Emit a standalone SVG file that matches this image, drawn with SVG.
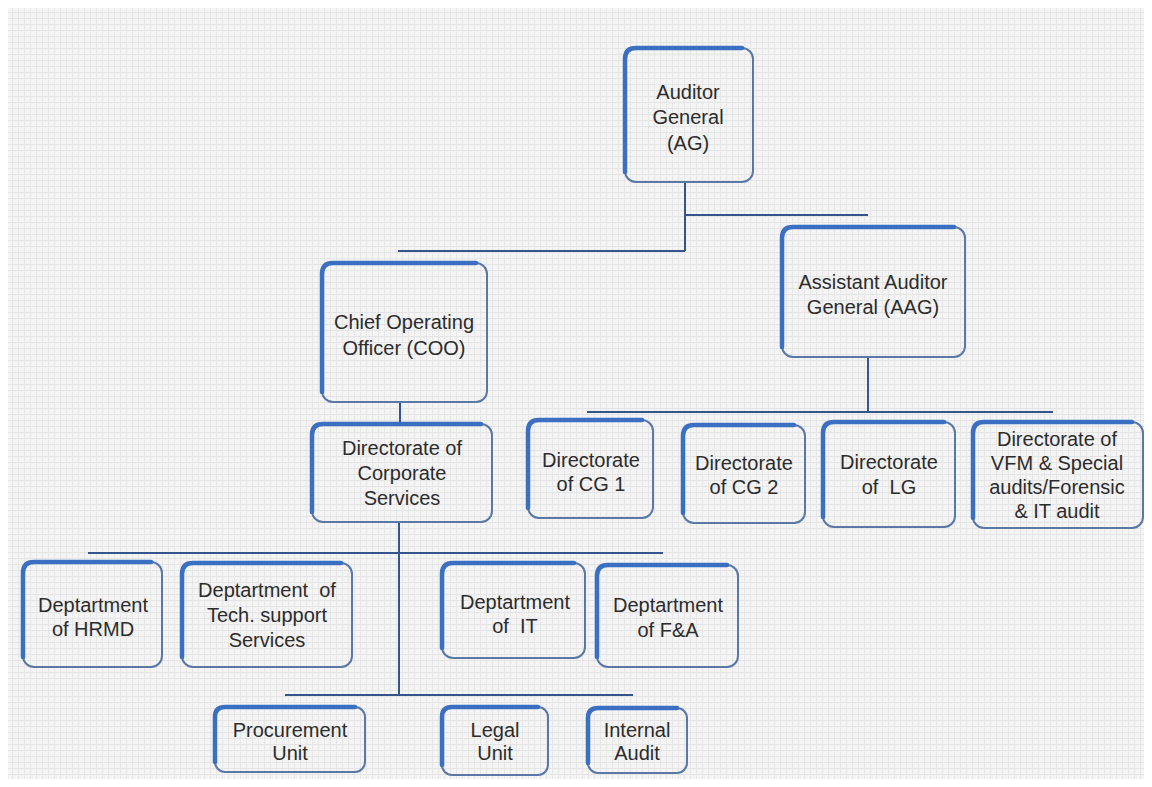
<svg xmlns="http://www.w3.org/2000/svg" width="1152" height="787" viewBox="0 0 1152 787">
<defs>
<pattern id="canvas" width="6" height="6" patternUnits="userSpaceOnUse">
<rect width="6" height="6" fill="#f4f4f4"/>
<path d="M0,0.5 H6" stroke="#e4e4e4" stroke-width="1"/>
<path d="M0.5,0 V6" stroke="#e7e7e7" stroke-width="1"/>
</pattern>
<style>
.box{fill:none;stroke:#5a78a6;stroke-width:2}
.hl{fill:none;stroke:#3b6fc1;stroke-width:4.5;stroke-linecap:round}
.lbl{font-family:"Liberation Sans",Arial,sans-serif;font-size:20px;fill:#2c2c2c;text-anchor:middle;white-space:pre}
.conn{fill:none;stroke:#34558a;stroke-width:2}
</style>
</defs>
<rect width="1152" height="787" fill="#ffffff"/>
<rect x="8" y="8" width="1136" height="771" fill="url(#canvas)"/>

<g id="connectors">
<path class="conn" d="M685,182 V251 M398,251 H685 M685,215 H868"/>
<path class="conn" d="M400,402 V424"/>
<path class="conn" d="M868,357 V412 M587,412 H1053"/>
<path class="conn" d="M399,522 V695 M88,553 H663 M285,695 H633"/>
</g>

<g id="ag">
<rect class="box" x="625" y="48" width="128" height="134" rx="11"/>
<path class="hl" d="M625,172 V59 Q625,48 636,48 H742"/>
<text class="lbl" x="688" y="99">Auditor</text>
<text class="lbl" x="688" y="124">General</text>
<text class="lbl" x="688" y="150">(AG)</text>
</g>

<g id="coo">
<rect class="box" x="322" y="263" width="165" height="139" rx="11"/>
<path class="hl" d="M322,392 V274 Q322,263 333,263 H476"/>
<text class="lbl" x="404" y="329">Chief Operating</text>
<text class="lbl" x="404" y="355">Officer (COO)</text>
</g>

<g id="aag">
<rect class="box" x="782" y="227" width="183" height="130" rx="11"/>
<path class="hl" d="M782,347 V238 Q782,227 793,227 H954"/>
<text class="lbl" x="873" y="289">Assistant Auditor</text>
<text class="lbl" x="873" y="314">General (AAG)</text>
</g>

<g id="corporate">
<rect class="box" x="312" y="424" width="180" height="98" rx="11"/>
<path class="hl" d="M312,512 V435 Q312,424 323,424 H481"/>
<text class="lbl" x="402" y="455">Directorate of</text>
<text class="lbl" x="402" y="480">Corporate</text>
<text class="lbl" x="402" y="505">Services</text>
</g>

<g id="cg1">
<rect class="box" x="528" y="420" width="125" height="98" rx="11"/>
<path class="hl" d="M528,508 V431 Q528,420 539,420 H642"/>
<text class="lbl" x="591" y="467">Directorate</text>
<text class="lbl" x="591" y="491">of CG 1</text>
</g>

<g id="cg2">
<rect class="box" x="683" y="425" width="122" height="98" rx="11"/>
<path class="hl" d="M683,513 V436 Q683,425 694,425 H794"/>
<text class="lbl" x="744" y="470">Directorate</text>
<text class="lbl" x="744" y="494">of CG 2</text>
</g>

<g id="lg">
<rect class="box" x="823" y="422" width="132" height="105" rx="11"/>
<path class="hl" d="M823,517 V433 Q823,422 834,422 H944"/>
<text class="lbl" x="889" y="469">Directorate</text>
<text class="lbl" x="889" y="494" xml:space="preserve">of  LG</text>
</g>

<g id="vfm">
<rect class="box" x="973" y="422" width="170" height="106" rx="11"/>
<path class="hl" d="M973,518 V433 Q973,422 984,422 H1132"/>
<text class="lbl" x="1057" y="446">Directorate of</text>
<text class="lbl" x="1057" y="470">VFM &amp; Special</text>
<text class="lbl" x="1057" y="494">audits/Forensic</text>
<text class="lbl" x="1057" y="518">&amp; IT audit</text>
</g>

<g id="hrmd">
<rect class="box" x="23" y="562" width="139" height="105" rx="11"/>
<path class="hl" d="M23,657 V573 Q23,562 34,562 H151"/>
<text class="lbl" x="93" y="612">Deptartment</text>
<text class="lbl" x="93" y="636">of HRMD</text>
</g>

<g id="tech">
<rect class="box" x="182" y="563" width="170" height="104" rx="11"/>
<path class="hl" d="M182,657 V574 Q182,563 193,563 H341"/>
<text class="lbl" x="267" y="597" xml:space="preserve">Deptartment  of</text>
<text class="lbl" x="267" y="622">Tech. support</text>
<text class="lbl" x="267" y="647">Services</text>
</g>

<g id="it">
<rect class="box" x="442" y="563" width="143" height="95" rx="11"/>
<path class="hl" d="M442,648 V574 Q442,563 453,563 H574"/>
<text class="lbl" x="515" y="609">Deptartment</text>
<text class="lbl" x="515" y="633" xml:space="preserve">of  IT</text>
</g>

<g id="fa">
<rect class="box" x="597" y="565" width="141" height="102" rx="11"/>
<path class="hl" d="M597,657 V576 Q597,565 608,565 H727"/>
<text class="lbl" x="668" y="612">Deptartment</text>
<text class="lbl" x="668" y="637">of F&amp;A</text>
</g>

<g id="procurement">
<rect class="box" x="215" y="707" width="150" height="65" rx="10"/>
<path class="hl" d="M215,762 V717 Q215,707 225,707 H355"/>
<text class="lbl" x="290" y="737">Procurement</text>
<text class="lbl" x="290" y="760">Unit</text>
</g>

<g id="legal">
<rect class="box" x="442" y="707" width="106" height="68" rx="10"/>
<path class="hl" d="M442,765 V717 Q442,707 452,707 H538"/>
<text class="lbl" x="495" y="737">Legal</text>
<text class="lbl" x="495" y="760">Unit</text>
</g>

<g id="internal">
<rect class="box" x="588" y="708" width="99" height="65" rx="10"/>
<path class="hl" d="M588,763 V718 Q588,708 598,708 H677"/>
<text class="lbl" x="637" y="737">Internal</text>
<text class="lbl" x="637" y="760">Audit</text>
</g>
</svg>
